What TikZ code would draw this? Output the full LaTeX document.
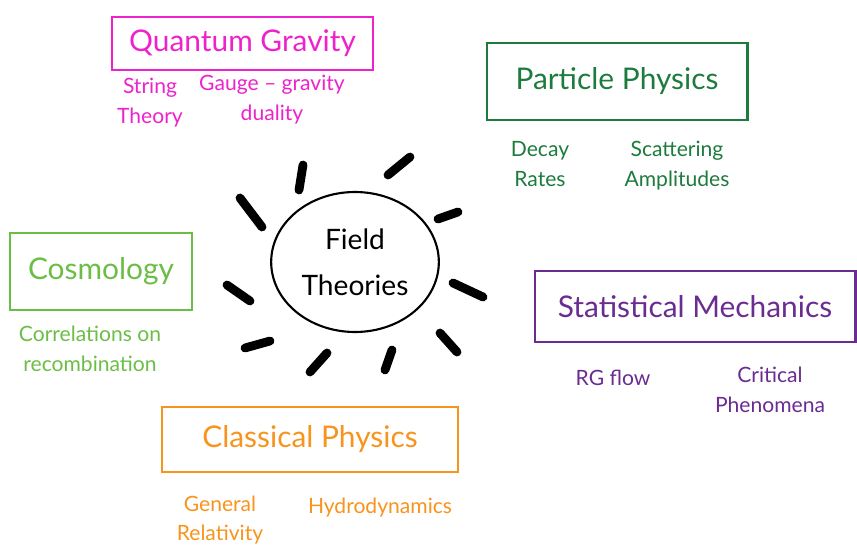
\documentclass[tikz,border=0pt]{standalone}
\usepackage{fontspec}
\setmainfont{Lato}
\usepackage{tikz}
\usetikzlibrary{shapes,positioning}
\definecolor{colorQG}{HTML}{EE22CC}
\definecolor{colorPP}{HTML}{1E7B3E}
\definecolor{colorCOS}{HTML}{6BBE45}
\definecolor{colorSM}{HTML}{6A2C91}
\definecolor{colorCP}{HTML}{F7941D}
\tikzset{
   box/.style={rectangle, draw, line width=1.7pt, inner sep=0pt, font=\fontsize{17}{20}\selectfont},
   sub/.style={align=center, font=\fontsize{12}{17}\selectfont},
   ray/.style={draw=black, line width=5pt, line cap=round},
}

\begin{document}
\begin{tikzpicture}
  \useasboundingbox (0,0) rectangle (17.14,11.02);

  \node [ellipse, draw, line width=1.2pt, minimum width=3cm, minimum height=2.8cm, align=center, font=\fontsize{16}{26}\selectfont] (ft) at (7.1,5.78) {Field\\Theories};

  \node [box, draw=colorQG, text=colorQG, minimum width=5.22cm, minimum height=1.06cm] (qg) at (4.85,10.15) {Quantum Gravity};
  \node [box, draw=colorPP, text=colorPP, minimum width=5.2cm, minimum height=1.54cm] (pp) at (12.34,9.39) {Particle Physics};
  \node [box, draw=colorCOS, text=colorCOS, minimum width=3.64cm, minimum height=1.54cm] (cos) at (2.02,5.59) {Cosmology};
  \node [box, draw=colorSM, text=colorSM, minimum width=6.4cm, minimum height=1.42cm] (sm) at (13.9,4.89) {Statistical Mechanics};
  \node [box, draw=colorCP, text=colorCP, minimum width=5.92cm, minimum height=1.3cm] (cp) at (6.2,2.23) {Classical Physics};

  % sub topics
  \node [sub, text=colorQG] (string) at (3.0,8.96) {String\\Theory};
  \node [sub, text=colorQG] (gauge) at (5.44,9.02) {Gauge -- gravity\\duality};
  \node [sub, text=colorPP] (decay) at (10.8,7.74) {Decay\\Rates};
  \node [sub, text=colorPP] (scatter) at (13.54,7.7) {Scattering\\Amplitudes};
  \node [sub, text=colorCOS] (corr) at (1.8,4.04) {Correlations on\\recombination};
  \node [sub, text=colorSM] (rg) at (12.26,3.46) {RG flow};
  \node [sub, text=colorSM] (crit) at (15.4,3.22) {Critical\\Phenomena};
  \node [sub, text=colorCP] (gr) at (4.4,0.62) {General\\Relativity};
  \node [sub, text=colorCP] (hydro) at (7.6,0.86) {Hydrodynamics};

  % rays round the circle
  \draw [ray] (6.06,7.72) -- (5.98,7.22);
  \draw [ray] (8.2,7.88) -- (7.76,7.52);
  \draw [ray] (4.8,7.06) -- (5.24,6.48);
  \draw [ray] (9.16,6.78) -- (8.76,6.64);
  \draw [ray] (4.54,5.32) -- (5.0,5.0);
  \draw [ray] (9.06,5.36) -- (9.66,5.08);
  \draw [ray] (4.9,4.06) -- (5.4,4.2);
  \draw [ray] (8.8,4.36) -- (9.14,3.98);
  \draw [ray] (6.2,3.58) -- (6.54,3.96);
  \draw [ray] (7.7,3.62) -- (7.84,4.02);
\end{tikzpicture}
\end{document}
